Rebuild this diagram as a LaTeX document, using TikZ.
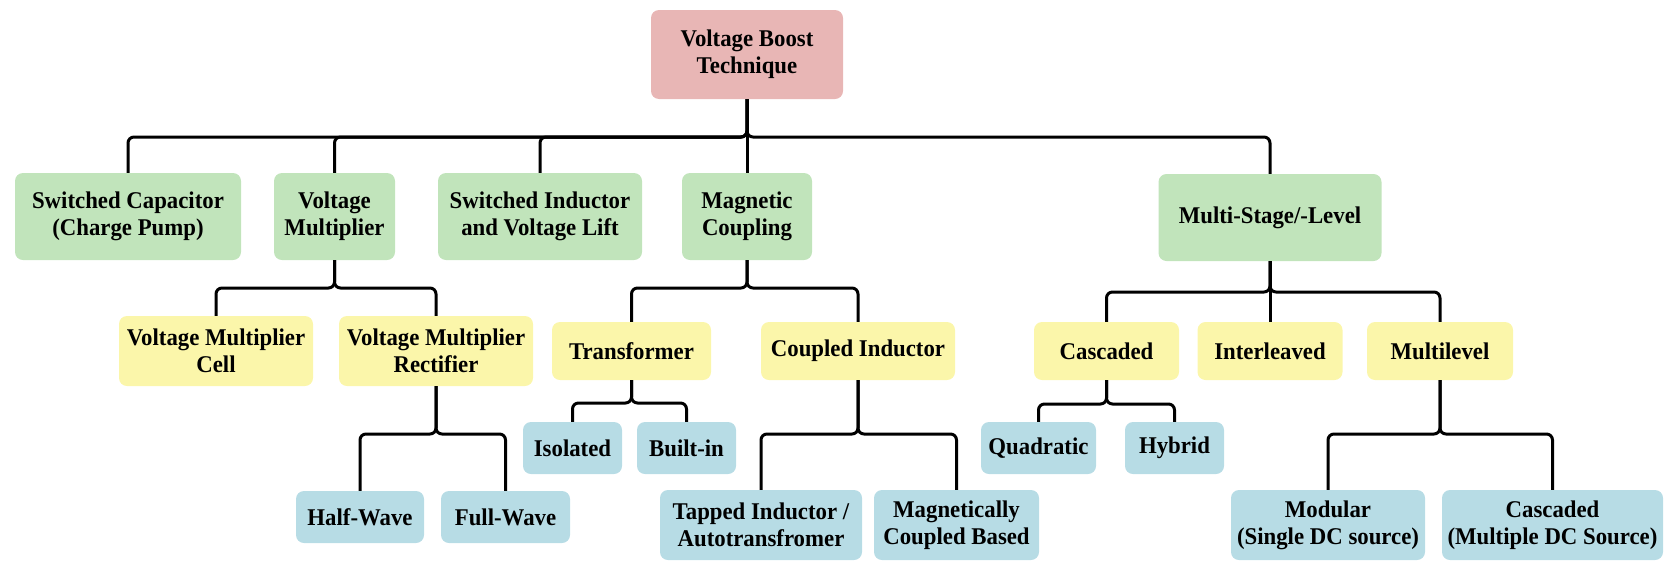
\documentclass[tikz,border=0pt]{standalone}
\usepackage{fontspec}
\setmainfont[FakeStretch=0.95]{Liberation Serif}
\definecolor{pinkc}{HTML}{E8B6B5}
\definecolor{greenc}{HTML}{C1E4BB}
\definecolor{yellowc}{HTML}{FBF6AA}
\definecolor{bluec}{HTML}{B7DCE5}
\tikzset{
  box/.style={rounded corners=8pt, inner sep=2pt, align=center, text=black,
    font=\bfseries\fontsize{24}{27}\selectfont},
  rbox/.style={box, fill=pinkc},
  gbox/.style={box, fill=greenc},
  ybox/.style={box, fill=yellowc},
  bbox/.style={box, fill=bluec},
  conn/.style={line width=3pt, rounded corners=6pt, black},
}
\begin{document}
\begin{tikzpicture}[x=1pt,y=-1pt]
\useasboundingbox (0,0) rectangle (1667,560);
% root
\node[rbox, minimum width=192pt, minimum height=89pt] (root) at (747,54.5) {Voltage Boost\\Technique};
% level 1
\node[gbox, minimum width=226pt, minimum height=87pt] (sc) at (128,216.5) {Switched Capacitor\\(Charge Pump)};
\node[gbox, minimum width=121pt, minimum height=87pt] (vm) at (334.5,216.5) {Voltage\\Multiplier};
\node[gbox, minimum width=204pt, minimum height=87pt] (si) at (540,216.5) {Switched Inductor\\and Voltage Lift};
\node[gbox, minimum width=130pt, minimum height=87pt] (mc) at (747,216.5) {Magnetic\\Coupling};
\node[gbox, minimum width=223pt, minimum height=87pt] (ms) at (1270,217.5) {Multi-Stage/-Level};
% level 2
\node[ybox, minimum width=194pt, minimum height=70pt] (vmc) at (216,351) {Voltage Multiplier\\Cell};
\node[ybox, minimum width=194pt, minimum height=70pt] (vmr) at (436,351) {Voltage Multiplier\\Rectifier};
\node[ybox, minimum width=159pt, minimum height=58pt] (tr) at (631.5,351) {Transformer};
\node[ybox, minimum width=194pt, minimum height=58pt] (ci) at (858,351) {Coupled Inductor};
\node[ybox, minimum width=145pt, minimum height=58pt] (cas) at (1106.5,351) {Cascaded};
\node[ybox, minimum width=145pt, minimum height=58pt] (il) at (1270,351) {Interleaved};
\node[ybox, minimum width=146pt, minimum height=58pt] (ml) at (1440,351) {Multilevel};
% level 3
\node[bbox, minimum width=99pt, minimum height=52pt] (iso) at (572.5,448) {Isolated};
\node[bbox, minimum width=99pt, minimum height=52pt] (bi) at (686.5,448) {Built-in};
\node[bbox, minimum width=115pt, minimum height=52pt] (quad) at (1038.5,448) {Quadratic};
\node[bbox, minimum width=99pt, minimum height=52pt] (hyb) at (1174.5,448) {Hybrid};
% level 4
\node[bbox, minimum width=128pt, minimum height=52pt] (hw) at (360,517) {Half-Wave};
\node[bbox, minimum width=129pt, minimum height=52pt] (fw) at (505.5,517) {Full-Wave};
\node[bbox, minimum width=202pt, minimum height=70pt] (ti) at (761,525) {Tapped Inductor /\\Autotransfromer};
\node[bbox, minimum width=165pt, minimum height=70pt] (mcb) at (956.5,525) {Magnetically\\Coupled Based};
\node[bbox, minimum width=194pt, minimum height=70pt] (mod) at (1328,525) {Modular\\(Single DC source)};
\node[bbox, minimum width=221pt, minimum height=70pt] (cmd) at (1552.5,525) {Cascaded\\(Multiple DC Source)};
% bus points
\coordinate (b0) at (747,137);
\coordinate (b1) at (334.5,288);
\coordinate (b2) at (747,288);
\coordinate (b3) at (1270,292);
\coordinate (b4) at (631.5,403);
\coordinate (b5) at (436,434);
\coordinate (b6) at (858,434);
\coordinate (b7) at (1106.5,404);
\coordinate (b8) at (1440,434);
% connectors
\draw[conn] (root.south) -- (b0) -| (sc.north);
\draw[conn] (root.south) -- (b0) -| (vm.north);
\draw[conn] (root.south) -- (b0) -| (si.north);
\draw[conn] (root.south) -- (mc.north);
\draw[conn] (root.south) -- (b0) -| (ms.north);
\draw[conn] (vm.south) -- (b1) -| (vmc.north);
\draw[conn] (vm.south) -- (b1) -| (vmr.north);
\draw[conn] (mc.south) -- (b2) -| (tr.north);
\draw[conn] (mc.south) -- (b2) -| (ci.north);
\draw[conn] (ms.south) -- (b3) -| (cas.north);
\draw[conn] (ms.south) -- (il.north);
\draw[conn] (ms.south) -- (b3) -| (ml.north);
\draw[conn] (tr.south) -- (b4) -| (iso.north);
\draw[conn] (tr.south) -- (b4) -| (bi.north);
\draw[conn] (vmr.south) -- (b5) -| (hw.north);
\draw[conn] (vmr.south) -- (b5) -| (fw.north);
\draw[conn] (ci.south) -- (b6) -| (ti.north);
\draw[conn] (ci.south) -- (b6) -| (mcb.north);
\draw[conn] (cas.south) -- (b7) -| (quad.north);
\draw[conn] (cas.south) -- (b7) -| (hyb.north);
\draw[conn] (ml.south) -- (b8) -| (mod.north);
\draw[conn] (ml.south) -- (b8) -| (cmd.north);
\end{tikzpicture}
\end{document}
